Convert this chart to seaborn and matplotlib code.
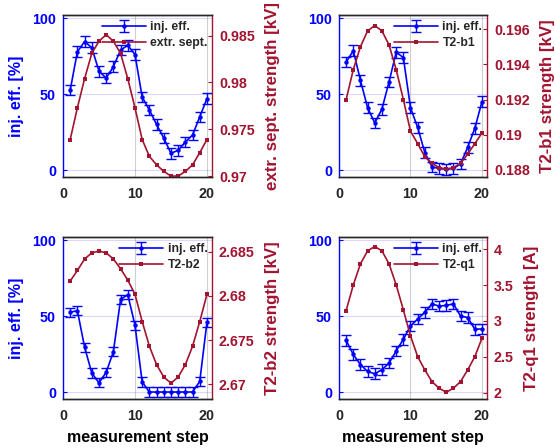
import numpy as np
import pandas as pd
import matplotlib
matplotlib.use('Agg')
import matplotlib.pyplot as plt
import seaborn as sns
from matplotlib.legend_handler import HandlerTuple
from matplotlib.ticker import FuncFormatter

# ---------------- data ----------------
steps = list(range(1, 21))

eff_sept = [52.6, 77.8, 84.5, 80.5, 65, 60.5, 68, 79, 82, 76, 48, 39.5, 30, 21, 11, 13, 18.5, 23, 35, 47]
err_sept = [3.5, 3.5, 3.5, 3.5, 3.5, 3.5, 3.5, 3.5, 3.5, 3.5, 3.5, 3.5, 3.5, 3.5, 3.5, 3.5, 3.5, 3.5, 3.5, 3.5]
val_sept = [0.9739, 0.9773, 0.9804, 0.9831, 0.9844, 0.9851, 0.9844, 0.9831, 0.9804, 0.9773,
            0.9739, 0.9721, 0.9712, 0.9705, 0.9700, 0.9700, 0.9705, 0.9712, 0.9725, 0.9739]

eff_b1 = [71, 78.5, 59, 41, 31, 40, 58, 77.5, 74, 41, 28, 11.5, 2, 1, 0.5, 1, 4, 15, 27.5, 45]
err_b1 = [3.5, 3.5, 3.5, 3.5, 3.5, 3.5, 3.5, 3.5, 3.5, 3.5, 3.5, 3.5, 3.5, 3.5, 3.5, 3.5, 3.5, 3.5, 3.5, 3.5]
val_b1 = [0.1920, 0.1937, 0.1950, 0.1959, 0.1962, 0.1959, 0.1951, 0.1937, 0.1920, 0.1902,
          0.1895, 0.18875, 0.18838, 0.18813, 0.18806, 0.18813, 0.18838, 0.1889, 0.1895, 0.1901]

eff_b2 = [52.5, 53.5, 29.5, 12.5, 6, 13, 26.5, 61, 64, 44, 6.6, 0, 0, 0, 0, 0, 0, 0, 7, 46]
err_b2 = [3, 3, 3, 3, 3, 3, 3, 3, 3, 3, 3, 3, 3, 3, 3, 3, 3, 3, 3, 3]
val_b2 = [2.6817, 2.6829, 2.6842, 2.6849, 2.6851, 2.6849, 2.6842, 2.6831, 2.6818, 2.6802,
          2.6771, 2.6743, 2.6722, 2.6708, 2.6701, 2.6708, 2.6722, 2.6743, 2.6771, 2.6802]

eff_q1 = [34, 24.7, 18, 13.5, 12, 14.7, 19, 27, 34.7, 43.5, 48, 52.5, 58, 56.5, 57, 58, 50, 49, 41.3, 41.5]
err_q1 = [3.5, 3.5, 3.5, 3.5, 3.5, 3.5, 3.5, 3.5, 3.5, 3.5, 3.5, 3.5, 3.5, 3.5, 3.5, 3.5, 3.5, 3.5, 3.5, 3.5]
val_q1 = [3.144, 3.502, 3.795, 3.977, 4.037, 3.977, 3.795, 3.502, 3.153, 2.79,
          2.502, 2.316, 2.153, 2.06, 2.005, 2.06, 2.153, 2.316, 2.502, 2.758]

names = ['extr. sept.', 'T2-b1', 'T2-b2', 'T2-q1']
right_labels = ['extr. sept. strength [kV]', 'T2-b1 strength [kV]', 'T2-b2 strength [kV]', 'T2-q1 strength [A]']
right_ticks = [[0.97, 0.975, 0.98, 0.985],
               [0.188, 0.19, 0.192, 0.194, 0.196],
               [2.67, 2.675, 2.68, 2.685],
               [2, 2.5, 3, 3.5, 4]]
right_lims = [(0.9699, 0.9872), (0.1876, 0.1968), (2.6683, 2.6867), (1.91, 4.17)]

effs = [eff_sept, eff_b1, eff_b2, eff_q1]
errs = [err_sept, err_b1, err_b2, err_q1]
vals = [val_sept, val_b1, val_b2, val_q1]

# ---------------- style ----------------
sns.set_style('white')
plt.rcParams['font.family'] = ['Liberation Sans', 'DejaVu Sans']
plt.rcParams['font.weight'] = 'bold'
plt.rcParams['axes.labelweight'] = 'bold'

BLUE = '#0000FF'
RED = '#A2142F'
DARK = '#262626'

W, H = 555, 448
fig = plt.figure(figsize=(W / 100, H / 100), dpi=100)

# axes boxes in pixels (left, top, right, bottom)
boxes = [(63, 15, 212, 177), (339, 15, 487, 177), (63, 237, 212, 399), (339, 237, 487, 399)]

for i in range(4):
    l, t, r, b = boxes[i]
    ax = fig.add_axes([l / W, (H - b) / H, (r - l) / W, (b - t) / H])
    df = pd.DataFrame({'step': steps, 'eff': effs[i], 'err': errs[i], 'val': vals[i]})

    ax.xaxis.grid(True, color='#b0b0b0', alpha=0.6, lw=0.8)
    ax.yaxis.grid(True, color=BLUE, alpha=0.15, lw=0.8)
    ax.set_axisbelow(True)

    eb = ax.errorbar(df['step'], df['eff'], yerr=df['err'], fmt='none', ecolor=BLUE,
                     elinewidth=1.0, capsize=3.5, capthick=1.0)
    sns.lineplot(data=df, x='step', y='eff', ax=ax, color=BLUE, marker='o', markersize=3.2,
                 markeredgewidth=0, linewidth=1.2)
    blue_line = ax.get_lines()[-1]

    ax.set_xlim(0, 20.7)
    ax.set_ylim(-4.6, 102)
    ax.set_xticks([0, 10, 20])
    ax.set_yticks([0, 50, 100])

    ax2 = ax.twinx()
    sns.lineplot(data=df, x='step', y='val', ax=ax2, color=RED, marker='s', markersize=2.6,
                 markeredgewidth=0, linewidth=1.2)
    red_line = ax2.get_lines()[-1]
    ax2.set_ylim(*right_lims[i])
    ax2.set_yticks(right_ticks[i])
    ax2.yaxis.set_major_formatter(FuncFormatter(lambda v, p: ('%g' % round(v, 4))))

    # spines
    for a in (ax, ax2):
        a.spines['top'].set_color(DARK)
        a.spines['bottom'].set_color(DARK)
        for s in a.spines.values():
            s.set_linewidth(1.0)
    ax.spines['left'].set_color(BLUE)
    ax.spines['right'].set_visible(False)
    ax2.spines['left'].set_visible(False)
    ax2.spines['right'].set_color(RED)

    ax.tick_params(axis='y', colors=BLUE, direction='in', length=3, labelsize=10.3, pad=5)
    ax.tick_params(axis='x', colors=DARK, direction='in', length=3, labelsize=10.3, pad=7)
    ax2.tick_params(axis='y', colors=RED, direction='in', length=3, labelsize=10.3, pad=5)

    if i in (0, 2):
        ax.set_ylabel('inj. eff. [%]', color=BLUE, fontsize=11.5, fontweight='bold', labelpad=6)
    else:
        ax.set_ylabel('')
    if i in (2, 3):
        ax.set_xlabel('measurement step', color='black', fontsize=11.5, fontweight='bold', labelpad=5)
    else:
        ax.set_xlabel('')
    ax2.set_ylabel(right_labels[i], color=RED, fontsize=12.2, fontweight='bold', labelpad=7)

    leg = ax2.legend([(blue_line, eb), red_line], ['inj. eff.', names[i]],
                     handler_map={tuple: HandlerTuple(ndivide=1)},
                     loc='upper right', frameon=False, fontsize=8.8, handlelength=3.6,
                     handletextpad=0.35, labelspacing=0.35, borderaxespad=0.1,
                     bbox_to_anchor=(1.01, 1.0))
    for txt in leg.get_texts():
        txt.set_fontweight('bold')
        txt.set_color(DARK)

fig.savefig('out.png', dpi=100)
